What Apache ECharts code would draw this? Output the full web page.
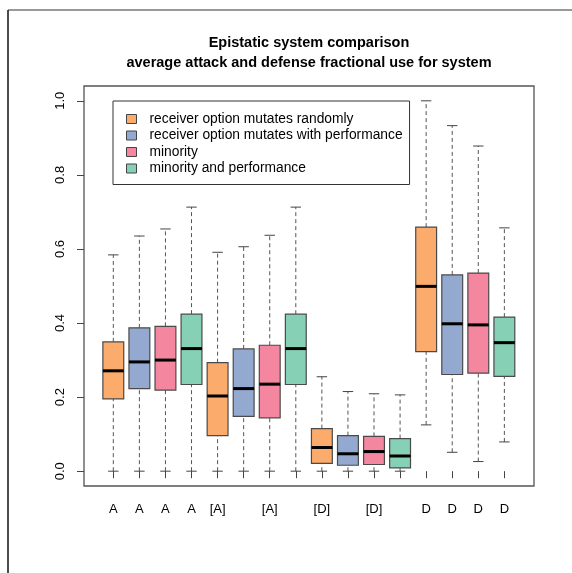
<!DOCTYPE html>
<html>
<head>
<meta charset="utf-8">
<title>Epistatic system comparison</title>
<script src="https://cdn.jsdelivr.net/npm/echarts@6/dist/echarts.min.js"></script>
<style>
  html, body { margin: 0; padding: 0; background: #fff; }
  #chart { width: 572px; height: 573px; }
</style>
</head>
<body>
<div id="chart"></div>
<script>
// Tick labels under the 16 boxes (alternate [A]/[D] labels are left blank)
const tickLabels = ['A', 'A', 'A', 'A', '[A]', '', '[A]', '', '[D]', '', '[D]', '', 'D', 'D', 'D', 'D'];

// Series (one colour each); every series has one box per label group
const seriesNames = [
  'receiver option mutates randomly',
  'receiver option mutates with performance',
  'minority',
  'minority and performance'
];
const seriesColors = ['#fbab6b', '#93a9cf', '#f4879f', '#86d0b6'];

// Box statistics per series: [min, Q1, median, Q3, max] for groups A, [A], [D], D
const randomStats = [
  [0.000, 0.195, 0.271, 0.349, 0.584],
  [0.000, 0.096, 0.203, 0.293, 0.591],
  [0.000, 0.021, 0.064, 0.115, 0.255],
  [0.125, 0.323, 0.499, 0.659, 1.000]
];
const performanceStats = [
  [0.000, 0.223, 0.295, 0.387, 0.635],
  [0.000, 0.148, 0.223, 0.330, 0.606],
  [0.000, 0.016, 0.047, 0.096, 0.215],
  [0.051, 0.261, 0.398, 0.530, 0.933]
];
const minorityStats = [
  [0.000, 0.219, 0.300, 0.391, 0.654],
  [0.000, 0.144, 0.235, 0.340, 0.637],
  [0.000, 0.018, 0.053, 0.094, 0.209],
  [0.026, 0.265, 0.395, 0.535, 0.878]
];
const minorityPerformanceStats = [
  [0.000, 0.234, 0.331, 0.424, 0.713],
  [0.000, 0.234, 0.331, 0.424, 0.713],
  [0.000, 0.009, 0.041, 0.088, 0.206],
  [0.079, 0.256, 0.347, 0.416, 0.657]
];
const allStats = [randomStats, performanceStats, minorityStats, minorityPerformanceStats];

// y-axis tick values
const yTicks = [0, 0.2, 0.4, 0.6, 0.8, 1.0];

const FONT = "'Liberation Sans', Arial, Helvetica, sans-serif";

// R-style box: dashed whiskers, short solid staples, outlined box, thick median
function renderBox(params, api) {
  const x = api.value(0);
  const pMin = api.coord([x, api.value(1)]);
  const pQ1 = api.coord([x, api.value(2)]);
  const pMed = api.coord([x, api.value(3)]);
  const pQ3 = api.coord([x, api.value(4)]);
  const pMax = api.coord([x, api.value(5)]);
  const band = api.size([1, 0])[0];
  const bw = band * 0.8;
  const cap = bw * 0.25;
  const cx = pMed[0];
  const color = api.visual('color');
  const whisker = { stroke: '#555', lineWidth: 1, lineDash: [4, 3] };
  const staple = { stroke: '#444', lineWidth: 1 };
  return {
    type: 'group',
    children: [
      { type: 'line', shape: { x1: cx, y1: pQ3[1], x2: cx, y2: pMax[1] }, style: whisker },
      { type: 'line', shape: { x1: cx, y1: pMin[1], x2: cx, y2: pQ1[1] }, style: whisker },
      { type: 'line', shape: { x1: cx - cap, y1: pMax[1], x2: cx + cap, y2: pMax[1] }, style: staple },
      { type: 'line', shape: { x1: cx - cap, y1: pMin[1], x2: cx + cap, y2: pMin[1] }, style: staple },
      {
        type: 'rect',
        shape: { x: cx - bw / 2, y: pQ3[1], width: bw, height: pQ1[1] - pQ3[1] },
        style: { fill: color, stroke: '#4a4a4a', lineWidth: 1.2 }
      },
      { type: 'line', shape: { x1: cx - bw / 2, y1: pMed[1], x2: cx + bw / 2, y2: pMed[1] }, style: { stroke: '#000', lineWidth: 3 } }
    ]
  };
}

const series = seriesNames.map((name, s) => ({
  name: name,
  type: 'custom',
  xAxisIndex: 0,
  yAxisIndex: 0,
  itemStyle: { color: seriesColors[s], borderColor: '#444', borderWidth: 1 },
  encode: { x: 0, y: [1, 2, 3, 4, 5] },
  renderItem: renderBox,
  data: allStats[s].map((st, g) => [g * 4 + s].concat(st))
}));

const chart = echarts.init(document.getElementById('chart'), null, { renderer: 'canvas' });
chart.setOption({
  animation: false,
  backgroundColor: '#fff',
  textStyle: { fontFamily: FONT },
  title: {
    text: 'Epistatic system comparison\naverage attack and defense fractional use for system',
    left: 309,
    top: 33,
    textAlign: 'center',
    padding: 0,
    textStyle: { fontFamily: FONT, fontWeight: 'bold', fontSize: 14.5, lineHeight: 20, color: '#000' }
  },
  legend: {
    orient: 'vertical',
    left: 113,
    top: 101,
    padding: [10, 7, 8, 13],
    itemGap: 0.5,
    itemWidth: 10,
    itemHeight: 9,
    icon: 'rect',
    borderColor: '#333',
    borderWidth: 1,
    data: seriesNames.map((n, i) => ({ name: n, itemStyle: { color: seriesColors[i], borderColor: '#444', borderWidth: 1 } })),
    textStyle: { fontFamily: FONT, fontSize: 13.8, lineHeight: 16, color: '#000', padding: [0, 0, 0, 8] }
  },
  grid: [
    // boxes
    { left: 100.27, right: 54.6, top: 86, bottom: 87, show: false },
    // plot frame with the value axis
    { left: 84, right: 38, top: 86, bottom: 87, show: true, borderColor: '#555', borderWidth: 1.3, backgroundColor: 'transparent' }
  ],
  xAxis: [
    {
      type: 'category',
      gridIndex: 0,
      data: tickLabels,
      boundaryGap: true,
      axisLine: { show: false },
      axisTick: { show: true, alignWithLabel: true, length: 7, lineStyle: { color: '#444', width: 1 } },
      axisLabel: { interval: 0, margin: 17, fontSize: 13, color: '#000', fontFamily: FONT },
      splitLine: { show: false }
    },
    { type: 'value', gridIndex: 1, show: false, min: 0, max: 1 }
  ],
  yAxis: [
    { type: 'value', gridIndex: 0, min: -0.04, max: 1.04, show: false, splitLine: { show: false } },
    {
      type: 'value',
      gridIndex: 1,
      min: -0.04,
      max: 1.04,
      axisLine: { show: false },
      splitLine: { show: false },
      axisTick: { show: true, length: 7, customValues: yTicks, lineStyle: { color: '#444', width: 1 } },
      axisLabel: {
        customValues: yTicks,
        rotate: 90,
        margin: 17,
        fontSize: 13,
        color: '#000',
        fontFamily: FONT,
        formatter: v => v.toFixed(1)
      }
    }
  ],
  graphic: [
    { type: 'line', shape: { x1: 8, y1: 10, x2: 572, y2: 10 }, style: { stroke: '#777', lineWidth: 1.5 }, silent: true },
    { type: 'line', shape: { x1: 8, y1: 10, x2: 8, y2: 573 }, style: { stroke: '#111', lineWidth: 1.5 }, silent: true }
  ],
  series: series
});
</script>
</body>
</html>
